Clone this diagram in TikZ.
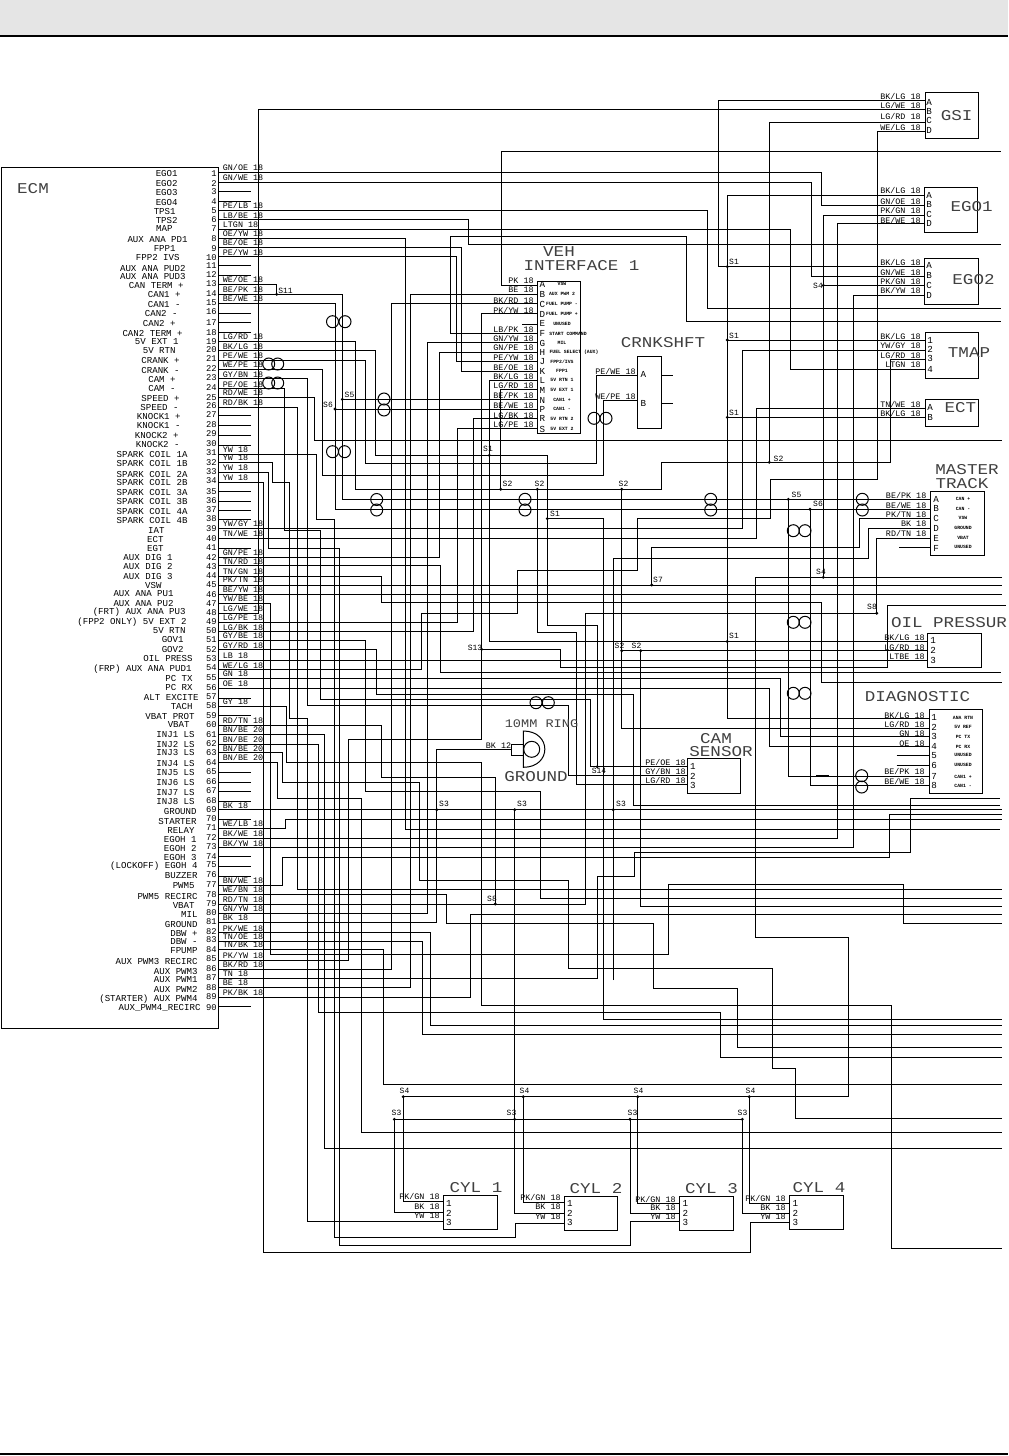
\documentclass[tikz,border=0pt]{standalone}
\usepackage{fontspec}
\setmainfont{Liberation Mono}
\newfontfamily\titlef[FakeStretch=1.17]{Liberation Mono}
\newcounter{nn}
\tikzset{
 wire/.style={draw=black,line width=0.5pt,line join=miter},
 compbox/.style={draw=black,line width=0.5pt,rectangle,inner sep=0pt,fill=none},
 lwire/.style={anchor=west,inner sep=0pt,font=\fontsize{4.2}{5}\selectfont},
 rwire/.style={anchor=east,inner sep=0pt,font=\fontsize{4.2}{5}\selectfont},
 ecmtxt/.style={anchor=east,inner sep=0pt,font=\fontsize{4.55}{5}\selectfont},
 pinnum/.style={anchor=east,inner sep=0pt,font=\fontsize{4.4}{5}\selectfont},
 letter/.style={anchor=center,inner sep=0pt,font=\fontsize{4.6}{5}\selectfont},
 tiny/.style={anchor=center,inner sep=0pt,font=\fontsize{2.4}{3}\selectfont\bfseries},
 title/.style={anchor=center,inner sep=0pt,text=black!75,font=\titlef\fontsize{7.5}{9}\selectfont},
 smalltitle/.style={anchor=center,inner sep=0pt,text=black!75,font=\titlef\fontsize{5.8}{7}\selectfont},
 splice/.style={anchor=center,inner sep=0pt,font=\fontsize{4}{5}\selectfont},
 twist/.style={draw=black,line width=0.5pt},
}
\newcommand{\txt}[4]{\stepcounter{nn}\node[#1] (t\thenn) at (#2,#3) {#4};}
\newcommand{\wl}[2]{\txt{lwire}{222.5}{#1-4.6}{#2}}
\newcommand{\el}[3]{\txt{ecmtxt}{#1}{#2}{#3}}
\newcommand{\pn}[2]{\txt{pinnum}{217}{#1}{#2}}
\newcommand{\boxn}[5]{\node[compbox,minimum width={(#4-#2)*0.5pt},minimum height={(#5-#3)*0.5pt}] (#1) at ({(#2+#4)/2},{(#3+#5)/2}) {};}
\newcommand{\jd}[2]{\fill[black] (#1,#2) circle (1.6);}
\newcommand{\tw}[2]{\draw[twist] (#1,#2) circle (6);}
\newcommand{\twh}[3]{\tw{#1}{#3}\tw{#2}{#3}}
\newcommand{\twv}[3]{\tw{#1}{#2}\tw{#1}{#3}}
\begin{document}
\begin{tikzpicture}[x=0.5pt,y=-0.5pt]
\useasboundingbox (0,0) rectangle (1008,1456);
% frame bars
\fill[black!10] (0,0) rectangle (1008,35);
\draw[line width=1pt] (0,36) -- (1008,36);
\draw[line width=0.6pt] (0,1454) -- (1008,1454);
% ECM box
\boxn{ecm}{1.5}{167.3}{218.5}{1028}
% ECM pins
\foreach \n/\y in {1/172.3,2/182.3,3/191.3,4/201.3,5/210.3,6/219.7,7/229.3,8/238.3,9/247.3,10/256.7,11/265,12/275,13/284.3,14/294.3,15/303.3,16/313.3,17/322.7,18/332.3,19/341.3,20/350.7,21/360.3,22/369.3,23/378.7,24/388.7,25/397.3,26/407.3,27/415,28/425,29/435,30/445,31/454.3,32/462.3,33/472.7,34/482.3,35/491.3,36/501,37/510,38/519,39/528.3,40/538.3,41/548.7,42/557.3,43/565.7,44/576,45/585,46/594.7,47/603.3,48/613.3,49/622,50/631.7,51/640.3,52/649.7,53/660,54/669.7,55/678.7,56/688.3,57/698.3,58/706,59/715.7,60/725,61/734.3,62/744.3,63/752.7,64/762.3,65/772.3,66/782.3,67/791.7,68/801,69/809.7,70/819.3,71/828.3,72/838.3,73/847.7,74/856.7,75/866,76/876,77/885,78/894.3,79/904,80/913.3,81/922.7,82/932.7,83/941,84/949.3,85/960.3,86/969.3,87/978.3,88/987.3,89/997.3,90/1006.7}{\coordinate (p\n) at (218.5,\y);}
% stubs
\foreach \n in {3,4,11,12,16,17,18,27,28,29,30,35,36,37,38,41,57,59,65,66,67,68,70,74,75,76,90}{\draw[wire] (p\n) -- ++(32.5,0);}
% boxes
\boxn{gsi}{925.7}{92.7}{978}{138.7}
\boxn{egoa}{924.3}{187.3}{977.3}{232.3}
\boxn{egob}{924.3}{258.3}{978.3}{304}
\boxn{tmap}{925.7}{332.3}{978.3}{378.3}
\boxn{ect}{925.7}{399.3}{978.3}{426.7}
\boxn{veh}{537.3}{281.7}{580.7}{433.3}
\boxn{crnk}{637.3}{356.7}{661.7}{428.3}
\boxn{mast}{930}{491}{984.3}{555}
\boxn{oil}{927.3}{633.3}{981.3}{667.3}
\boxn{diag}{929.3}{709.3}{982.7}{793.3}
\boxn{cam}{687.3}{758.3}{740.7}{793.3}
\boxn{cyla}{443.3}{1195.3}{497.3}{1229.3}
\boxn{cylb}{564.3}{1196.3}{617.3}{1230.3}
\boxn{cylc}{679.3}{1196.3}{733.3}{1230.3}
\boxn{cyld}{789.3}{1195.3}{843.3}{1229.3}
\boxn{lug}{511.7}{744.3}{523.3}{755.7}
% ring terminal
\draw[wire] (523.3,731) .. controls (552,731) and (552,767.3) .. (523.3,767.3) -- cycle;
\draw[wire] (531.7,749.3) circle (8);
% wires from ECM
\begin{scope}[every path/.style={wire}]
\draw (p1) -- (821.7,172.3) -- (821.7,205.3) -- (egoa.west |- 0,205.3);
\draw (p2) -- (811.7,182.3) -- (811.7,276.7) -- (egob.west |- 0,276.7);
\draw (p5) -- (707.3,210.3) -- (707.3,308.3) -- (1001,308.3);
\draw (p6) -- (468.7,219.7) -- (468.7,244.3) -- (1001,244.3);
\draw (p7) -- (790,229.3) -- (790,369) -- (tmap.west |- 0,369);
\draw (p8) -- (405.7,238.3) -- (405.7,829.3) -- (1000,829.3);
\draw (p9) -- (461.3,247.3) -- (461.3,371.3) -- (veh.west |- 0,371.3);
\draw (p10) -- (456.7,256.7) -- (456.7,361.7) -- (veh.west |- 0,361.7);
\draw (p13) -- (276.7,284.3) -- (276.7,294.3);
\draw (p14) -- (342.3,294.3) -- (342.3,499.3) -- (mast.west |- 0,499.3);
\draw (p15) -- (335,303.3) -- (335,509.3) -- (mast.west |- 0,509.3);
\draw (p19) -- (355.7,341.3) -- (355.7,489.3) -- (661.7,489.3) -- (661.7,462.3) -- (890.7,462.3) -- (890.7,359.3) -- (tmap.west |- 0,359.3);
\draw (p20) -- (375.3,350.7) -- (375.3,455.3) -- (547.3,455.3) -- (547.3,625.7) -- (597.3,625.7) -- (597.3,766.7);
\draw (p21) -- (365,360.3) -- (365,463.3) -- (596.7,463.3) -- (596.7,375.3) -- (crnk.west |- 0,375.3);
\draw (p22) -- (322.7,369.3) -- (322.7,475) -- (603.3,475) -- (603.3,400) -- (crnk.west |- 0,400);
\draw (p23) -- (307.3,378.7) -- (307.3,705) -- (568.7,705) -- (568.7,775.7) -- (cam.west |- 0,775.7);
\draw (p24) -- (284,388.7) -- (284,530) -- (320,530) -- (320,699.3) -- (590.7,699.3) -- (590.7,766.7) -- (cam.west |- 0,766.7);
\draw (p25) -- (314,397.3) -- (314,440.3) -- (1002,440.3);
\draw (p26) -- (297.3,407.3) -- (297.3,889.3) -- (1002,889.3);
\draw (p31) -- (316.7,454.3) -- (316.7,519) -- (334.3,519) -- (334.3,1237.3) -- (515.7,1237.3) -- (515.7,1223.3) -- (cylb.west |- 0,1223.3);
\draw (p32) -- (272.7,462.3) -- (272.7,482.3) -- (289.3,482.3) -- (289.3,718.3) -- (307.3,718.3) -- (307.3,1221.7) -- (cyla.west |- 0,1221.7);
\draw (p33) -- (268.3,472.7) -- (268.3,548.7) -- (339.3,548.7) -- (339.3,1245.3) -- (630.7,1245.3) -- (630.7,1221.7) -- (cylc.west |- 0,1221.7);
\draw (p34) -- (263.3,482.3) -- (263.3,1252.3) -- (750.7,1252.3) -- (750.7,1222.3) -- (cyld.west |- 0,1222.3);
\draw (p39) -- (742.7,528.3) -- (742.7,350) -- (tmap.west |- 0,350);
\draw (p40) -- (756,538.3) -- (756,408.3) -- (ect.west |- 0,408.3);
\draw (p42) -- (439.3,557.3) -- (439.3,352) -- (veh.west |- 0,352);
\draw (p43) -- (440.7,565.7) -- (440.7,672.3) -- (1001,672.3);
\draw (p44) -- (381.7,576) -- (381.7,602.3) -- (821.7,602.3) -- (821.7,682.3) -- (1002,682.3);
\draw (p45) -- (1002,585);
\draw (p46) -- (1002,594.7);
\draw (p47) -- (270.7,603.3) -- (270.7,954.3) -- (668.3,954.3) -- (668.3,884.5) -- (903.3,884.5) -- (903.3,923.3) -- (1002,923.3);
\draw (p48) -- (258.5,613.3) -- (258.5,109.3) -- (gsi.west |- 0,109.3);
\draw (p49) -- (457.5,622) -- (457.5,428.3) -- (veh.west |- 0,428.3);
\draw (p50) -- (473.3,631.7) -- (473.3,418.3) -- (veh.west |- 0,418.3);
\draw (p51) -- (365.7,640.3) -- (365.7,791.7) -- (540.7,791.7) -- (540.7,898.3) -- (1002,898.3);
\draw (p52) -- (376.3,649.7) -- (376.3,694) -- (633.3,694) -- (633.3,805.3) -- (1000,805.3);
\draw (p53) -- (oil.west |- 0,660);
\draw (p54) -- (421.7,669.7) -- (421.7,613.3) -- (517.7,613.3) -- (517.7,570.7) -- (637.3,570.7) -- (637.3,518.5) -- (770,518.5) -- (770,479.3) -- (877.3,479.3) -- (877.3,131.7) -- (gsi.west |- 0,131.7);
\draw (p55) -- (780,678.7) -- (780,736) -- (diag.west |- 0,736);
\draw (p56) -- (769.3,688.3) -- (769.3,746) -- (diag.west |- 0,746);
\draw (p58) -- (286.5,706) -- (286.5,762.5) -- (481.7,762.5) -- (481.7,1005.3) -- (891.7,1005.3) -- (891.7,1248.7) -- (1002,1248.7);
\draw (p60) -- (381.7,725) -- (381.7,777.3) -- (495.3,777.3) -- (495.3,904);
\draw (p61) -- (324.3,734.3) -- (324.3,1148.3) -- (1002,1148.3);
\draw (p62) -- (318.3,744.3) -- (318.3,1012.3) -- (720.3,1012.3) -- (720.3,1057.3) -- (1002,1057.3);
\draw (p63) -- (282.7,752.7) -- (282.7,782.5) -- (419.3,782.5) -- (419.3,880.7) -- (568.3,880.7) -- (568.3,968.3) -- (772.3,968.3) -- (772.3,1068.3) -- (795.5,1068.3) -- (795.5,1118.3) -- (1002,1118.3);
\draw (p64) -- (277.3,762.3) -- (277.3,798.3) -- (361.7,798.3) -- (361.7,1132.3) -- (1002,1132.3);
\draw (p69) -- (1002,809.7);
\draw (p71) -- (285.7,828.3) -- (285.7,819.3) -- (1002,819.3);
\draw (p72) -- (837.3,838.3) -- (837.3,223.3) -- (egoa.west |- 0,223.3);
\draw (p73) -- (853.3,847.7) -- (853.3,295.7) -- (egob.west |- 0,295.7);
\draw (p77) -- (282.3,885) -- (282.3,857.5) -- (889.3,857.5) -- (889.3,814.3) -- (1002,814.3);
\draw (p78) -- (446.7,894.3) -- (446.7,923.3) -- (653.3,923.3) -- (653.3,988.3) -- (737.3,988.3) -- (737.3,1047.3) -- (1002,1047.3);
\draw (p79) -- (585.3,904) -- (585.3,613.3) -- (876.7,613.3) -- (876.7,538.3) -- (mast.west |- 0,538.3);
\draw (p80) -- (427.3,913.3) -- (427.3,342.7) -- (veh.west |- 0,342.7);
\draw (p81) -- (436.7,922.7) -- (436.7,749.3) -- (lug.west |- 0,749.3);
\draw (p82) -- (430.7,932.7) -- (430.7,1025.5) -- (1002,1025.5);
\draw (p83) -- (422.7,941) -- (422.7,1034.3) -- (1002,1034.3);
\draw (p84) -- (383.3,949.3) -- (383.3,1084.3) -- (1002,1084.3);
\draw (p85) -- (348.3,960.3) -- (348.3,739.3) -- (481.7,739.3) -- (481.7,313.3) -- (veh.west |- 0,313.3);
\draw (p86) -- (391.7,969.3) -- (391.7,303.3) -- (veh.west |- 0,303.3);
\draw (p87) -- (597.3,978.3) -- (597.3,876.3) -- (634.3,876.3) -- (634.3,852.3) -- (910.7,852.3) -- (910.7,798.3) -- (1000,798.3);
\draw (p88) -- (410.7,987.3) -- (410.7,294.3) -- (veh.west |- 0,294.3);
\draw (p89) -- (470.3,997.3) -- (470.3,914.3) -- (1002,914.3);
% other runs
\draw (veh.west |- 0,285) -- (501.5,285) -- (501.5,151.5) -- (1001,151.5);
\draw (veh.west |- 0,333.3) -- (450,333.3) -- (450,236.5) -- (686.7,236.5) -- (686.7,321) -- (1001,321);
\draw (veh.west |- 0,324.3) -- (521.7,324.3);
\draw (veh.west |- 0,380.7) -- (489.3,380.7) -- (489.3,641.5) -- (oil.west |- 0,641.5);
\draw (veh.west |- 0,389.3) -- (500.7,389.3) -- (500.7,489.3);
\draw (veh.west |- 0,399.3) -- (342.3,399.3);
\draw (veh.west |- 0,409) -- (335,409);
\draw (crnk.east |- 0,375.5) -- (673,375.5);
\draw (crnk.east |- 0,403) -- (673,403);
% S1 net
\draw (gsi.west |- 0,100) -- (718.3,100) -- (718.3,266.7) -- (egob.west |- 0,266.7);
\draw (egoa.west |- 0,195) -- (727.3,195) -- (727.3,718.3) -- (diag.west |- 0,718.3);
\draw (727.3,340) -- (tmap.west |- 0,340);
\draw (727.3,417.3) -- (ect.west |- 0,417.3);
\draw (547.3,518.7) -- (603.3,518.7) -- (603.3,1019.3) -- (1002,1019.3);
% S2 net
\draw (gsi.west |- 0,122.3) -- (769.3,122.3) -- (769.3,462.3);
\draw (537.3,489.3) -- (537.3,632.3) -- (576.7,632.3) -- (576.7,784.7) -- (cam.west |- 0,784.7);
\draw (621.7,489.3) -- (621.7,728) -- (diag.west |- 0,728);
\draw (621.7,650.7) -- (oil.west |- 0,650.7);
\draw (640.7,650.7) -- (640.7,906.3) -- (1002,906.3);
% S4 net
\draw (egoa.west |- 0,215) -- (823.3,215) -- (823.3,577.3);
\draw (823.3,285.3) -- (egob.west |- 0,285.3);
\draw (1002,577.3) -- (755.7,577.3) -- (755.7,937.3) -- (848.3,937.3) -- (848.3,1096.7) -- (403.3,1096.7) -- (403.3,1201.7) -- (cyla.west |- 0,1201.7);
\draw (523.3,1096.7) -- (523.3,1202.7) -- (cylb.west |- 0,1202.7);
\draw (637.7,1096.7) -- (637.7,1203.3) -- (cylc.west |- 0,1203.3);
\draw (749.3,1096.7) -- (749.3,1203.3) -- (cyld.west |- 0,1203.3);
% S3 net
\draw (514.7,809.7) -- (514.7,1213.3) -- (cylb.west |- 0,1213.3);
\draw (394.3,1119.3) -- (742.3,1119.3) -- (742.3,1213.3) -- (cyld.west |- 0,1213.3);
\draw (394.3,1119.3) -- (394.3,1212.3) -- (cyla.west |- 0,1212.3);
\draw (630,1119.3) -- (630,1213.3) -- (cylc.west |- 0,1213.3);
\draw (613.3,980) -- (613.3,558.3) -- (868.3,558.3) -- (868.3,528.3) -- (mast.west |- 0,528.3);
% misc
\draw (651.7,585) -- (651.7,547.7) -- (859.3,547.7) -- (859.3,518.5) -- (mast.west |- 0,518.5);
\draw (788.3,499.3) -- (788.3,776) -- (diag.west |- 0,776);
\draw (810,509.3) -- (810,785.3) -- (diag.west |- 0,785.3);
\draw (481.7,649.3) -- (560.7,649.3) -- (560.7,667.3) -- (887.3,667.3) -- (887.3,605.7) -- (1006,605.7);
\draw (899.3,547.7) -- (mast.west |- 0,547.7);
\draw (896.7,755.7) -- (diag.west |- 0,755.7);
\draw (896.7,765) -- (diag.west |- 0,765);
\end{scope}
\draw[line width=0.9pt] (816,775.8) -- (829,775.8);
% splice dots
\jd{276.7}{294.3}\jd{342.3}{399.3}\jd{335}{409}\jd{489.3}{455.3}\jd{500.7}{489.3}\jd{537.3}{489.3}\jd{621.7}{489.3}\jd{547.3}{518.7}
\jd{727.3}{266.7}\jd{727.3}{340}\jd{727.3}{417.3}\jd{727.3}{641.5}\jd{769.3}{462.3}\jd{823.3}{285.3}\jd{823.3}{577.3}\jd{788.3}{499.3}\jd{810}{509.3}\jd{876.7}{613.3}\jd{651.7}{585}
\jd{621.7}{650.7}\jd{640.7}{650.7}\jd{481.7}{649.3}\jd{597.3}{766.7}\jd{495.3}{904}\jd{436.7}{809.7}\jd{514.7}{809.7}\jd{613.3}{809.7}
\jd{403.3}{1096.7}\jd{523.3}{1096.7}\jd{637.7}{1096.7}\jd{749.3}{1096.7}\jd{394.3}{1119.3}\jd{514.7}{1119.3}\jd{630}{1119.3}\jd{742.3}{1119.3}
% twisted pair marks
\twh{268.7}{277.7}{364}\twh{268.7}{277.7}{383}\twh{332.5}{345}{321.7}\twh{332.5}{344.5}{451.7}
\twv{384}{399}{410}\twv{376.7}{499.5}{510}\twv{525}{499.3}{510}\twh{594}{606}{418.3}\twv{710.7}{499.3}{510}\twv{862.3}{499.3}{510}
\twh{793.3}{805}{530.7}\twh{793.3}{805}{622.3}\twh{793.3}{805}{693.3}\twv{861.7}{775.7}{787}\twh{536}{548.3}{702.7}
% ECM text
\txt{title}{33}{188.5}{ECM}
\el{178}{173.3}{EGO1}\el{178}{183.3}{EGO2}\el{178}{192.7}{EGO3}\el{178}{202.7}{EGO4}\el{176}{211}{TPS1}\el{178}{220}{TPS2}\el{173}{228.7}{MAP}\el{188}{239.3}{AUX ANA PD1}\el{176}{248.7}{FPP1}\el{180}{257.7}{FPP2 IVS}\el{186}{268.3}{AUX ANA PUD2}\el{186}{276.7}{AUX ANA PUD3}\el{184}{285.3}{CAN TERM +}\el{181}{294.7}{CAN1 +}\el{181}{304.3}{CAN1 -}\el{178}{313.7}{CAN2 -}\el{176}{323.3}{CAN2 +}\el{183}{333}{CAN2 TERM +}\el{179}{341.7}{5V EXT 1}\el{176}{351}{5V RTN}\el{180}{360.7}{CRANK +}\el{180}{370.3}{CRANK -}\el{176}{379.7}{CAM +}\el{176}{388.7}{CAM -}\el{180}{398}{SPEED +}\el{179}{407.3}{SPEED -}\el{181}{416.7}{KNOCK1 +}\el{181}{425.7}{KNOCK1 -}\el{179}{435}{KNOCK2 +}\el{180}{444.3}{KNOCK2 -}
\el{188}{454}{SPARK COIL 1A}\el{188}{463}{SPARK COIL 1B}\el{188}{474}{SPARK COIL 2A}\el{188}{482.7}{SPARK COIL 2B}\el{188}{492.7}{SPARK COIL 3A}\el{188}{501.7}{SPARK COIL 3B}\el{188}{511}{SPARK COIL 4A}\el{188}{520}{SPARK COIL 4B}\el{165}{530}{IAT}\el{164}{539}{ECT}\el{164}{548.3}{EGT}\el{173}{557.7}{AUX DIG 1}\el{173}{566.7}{AUX DIG 2}\el{173}{576}{AUX DIG 3}\el{162}{585}{VSW}\el{174}{594}{AUX ANA PU1}\el{174}{603.3}{AUX ANA PU2}\el{186}{612.3}{(FRT) AUX ANA PU3}\el{187}{622}{(FPP2 ONLY) 5V EXT 2}\el{186}{630.3}{5V RTN}\el{184}{639.3}{GOV1}\el{184}{649.3}{GOV2}\el{193}{658.7}{OIL PRESS}\el{192}{669}{(FRP) AUX ANA PUD1}\el{193}{678.7}{PC TX}\el{193}{687.7}{PC RX}\el{199}{697}{ALT EXCITE}\el{193}{706}{TACH}\el{195}{716}{VBAT PROT}\el{190}{724.7}{VBAT}\el{195}{734.3}{INJ1 LS}\el{195}{744}{INJ2 LS}
\el{195}{752.7}{INJ3 LS}\el{195}{763.3}{INJ4 LS}\el{195}{772.7}{INJ5 LS}\el{195}{782.7}{INJ6 LS}\el{195}{792}{INJ7 LS}\el{195}{801.7}{INJ8 LS}\el{197}{811.3}{GROUND}\el{197}{821}{STARTER}\el{195}{830}{RELAY}\el{197}{839}{EGOH 1}\el{197}{848.3}{EGOH 2}\el{197}{857.7}{EGOH 3}\el{198}{866}{(LOCKOFF) EGOH 4}\el{198}{876}{BUZZER}\el{195}{886}{PWM5}\el{198}{896}{PWM5 RECIRC}\el{195}{905}{VBAT}\el{198}{914.3}{MIL}\el{198}{924}{GROUND}\el{198}{933.3}{DBW +}\el{198}{941.7}{DBW -}\el{198}{951}{FPUMP}\el{198}{961}{AUX PWM3 RECIRC}\el{198}{971}{AUX PWM3}\el{198}{980}{AUX PWM1}\el{198}{989.3}{AUX PWM2}\el{198}{999}{(STARTER) AUX PWM4}\el{201}{1008.3}{AUX\_PWM4\_RECIRC}
% pin numbers
\foreach \n/\y in {1/173.3,2/183.3,3/192,4/202,5/211,6/220,7/229,8/238.7,9/248.3,10/257.7,11/266,12/275,13/284,14/293.3,15/302.7,16/312,17/322.7,18/332.3,19/341.3,20/349.3,21/358.7,22/368.7,23/378,24/388,25/397.3,26/406,27/415,28/425,29/434,30/443.3,31/452.7,32/462.3,33/471.7,34/481,35/491.7,36/501,37/510,38/519,39/529,40/538.3,41/547.7,42/557.3,43/566.7,44/576,45/585,46/594.3,47/603.3,48/612.3,49/621.7,50/631,51/640,52/650,53/659,54/667.7,55/677.3,56/687.3,57/696.7,58/706,59/715.7,60/725,61/734.3,62/743.3,63/752.7,64/762.3,65/771.7,66/781.7,67/790.7,68/800.7,69/810,70/818.3,71/827.7,72/837.3,73/846.7,74/856.7,75/865,76/875,77/884.3,78/894.3,79/903.3,80/912.7,81/921.7,82/931.7,83/940,84/949.3,85/959,86/969,87/977.7,88/987.3,89/996.7,90/1007.7}{\pn{\y}{\n}}
% wire labels at ECM
\wl{172.3}{GN/OE 18}\wl{182.3}{GN/WE 18}\wl{210.3}{PE/LB 18}\wl{219.7}{LB/BE 18}\wl{229.3}{LTGN 18}\wl{238.3}{OE/YW 18}\wl{247.3}{BE/OE 18}\wl{256.7}{PE/YW 18}\wl{284.3}{WE/OE 18}\wl{294.3}{BE/PK 18}\wl{303.3}{BE/WE 18}\wl{341.3}{LG/RD 18}\wl{350.7}{BK/LG 18}\wl{360.3}{PE/WE 18}\wl{369.3}{WE/PE 18}\wl{378.7}{GY/BN 18}\wl{388.7}{PE/OE 18}\wl{397.3}{RD/WE 18}\wl{407.3}{RD/BK 18}\wl{454.3}{YW 18}\wl{462.3}{YW 18}\wl{472.7}{YW 18}\wl{482.3}{YW 18}\wl{528.3}{YW/GY 18}\wl{538.3}{TN/WE 18}\wl{557.3}{GN/PE 18}\wl{565.7}{TN/RD 18}\wl{576}{TN/GN 18}\wl{584.3}{PK/TN 18}\wl{594}{BE/YW 18}\wl{603.3}{YW/BE 18}\wl{613.3}{LG/WE 18}\wl{622}{LG/PE 18}\wl{631.7}{LG/BK 18}\wl{640.3}{GY/BE 18}\wl{649.7}{GY/RD 18}\wl{660}{LB 18}\wl{669.7}{WE/LG 18}\wl{678.7}{GN 18}\wl{688.3}{OE 18}\wl{706}{GY 18}\wl{725}{RD/TN 18}\wl{734.3}{BN/BE 20}\wl{744.3}{BN/BE 20}\wl{752.7}{BN/BE 20}\wl{762.3}{BN/BE 20}\wl{810}{BK 18}\wl{828.3}{WE/LB 18}\wl{838.3}{BK/WE 18}\wl{847.7}{BK/YW 18}\wl{885}{BN/WE 18}\wl{894.3}{WE/BN 18}\wl{904}{RD/TN 18}\wl{913.3}{GN/YW 18}\wl{922.7}{BK 18}\wl{932.7}{PK/WE 18}\wl{941}{TN/OE 18}\wl{949.3}{TN/BK 18}\wl{960.3}{PK/YW 18}\wl{969.3}{BK/RD 18}\wl{978.3}{TN 18}\wl{987.3}{BE 18}\wl{997.3}{PK/BK 18}
\txt{splice}{285.5}{290.5}{S11}
% GSI etc
\foreach \y/\t in {96/{BK/LG 18},105/{LG/WE 18},116.7/{LG/RD 18},127/{WE/LG 18},190.7/{BK/LG 18},201.7/{GN/OE 18},210.7/{PK/GN 18},220/{BE/WE 18},262.7/{BK/LG 18},272.3/{GN/WE 18},281.7/{PK/GN 18},290.7/{BK/YW 18},336.7/{BK/LG 18},345.7/{YW/GY 18},355/{LG/RD 18},365/{LTGN 18},404/{TN/WE 18},413.3/{BK/LG 18}}{\txt{rwire}{921}{\y}{\t}}
\foreach \y/\t in {102.3/A,111.7/B,120.7/C,130.7/D}{\txt{letter}{929}{\y}{\t}}
\foreach \y/\t in {195.7/A,204.3/B,214/C,223.3/D,265.7/A,275.7/B,285/C,295/D}{\txt{letter}{929}{\y}{\t}}
\foreach \y/\t in {340/1,349.3/2,358.3/3,369/4}{\txt{letter}{930}{\y}{\t}}
\foreach \y/\t in {407.3/A,417.3/B}{\txt{letter}{930}{\y}{\t}}
\txt{title}{956.7}{116}{GSI}\txt{title}{971.7}{206.7}{EGO1}\txt{title}{973.5}{279.3}{EGO2}\txt{title}{969}{352.7}{TMAP}\txt{title}{960.3}{407.7}{ECT}
% VEH
\txt{title}{559}{251.7}{VEH}\txt{title}{581.5}{265.7}{INTERFACE 1}
\foreach \y/\t in {281/{PK 18},290/{BE 18},300.3/{BK/RD 18},310/{PK/YW 18},329/{LB/PK 18},338.3/{GN/YW 18},347.3/{GN/PE 18},357/{PE/YW 18},367/{BE/OE 18},376.3/{BK/LG 18},385/{LG/RD 18},395.7/{BE/PK 18},405/{BE/WE 18},415/{LG/BK 18},424.3/{LG/PE 18}}{\txt{rwire}{534}{\y}{\t}}
\foreach \y/\t in {284.3/A,294/B,304/C,314/D,323.7/E,333.7/F,343/G,352.7/H,361.7/J,371/K,380/L,390.3/M,400/N,409/P,418.7/R,429/S}{\txt{letter}{542.3}{\y}{\t}}
\foreach \x/\y/\t in {562/284.3/VSW,562/294/{AUX PWM 2},562/304/{FUEL PUMP -},562/314/{FUEL PUMP +},562/323.7/UNUSED,568/333.7/{START COMMAND},562/343/MIL,574/352.7/{FUEL SELECT (AUX)},562/361.7/{FPP2/IVS},562/371/FPP1,562/380/{5V RTN 1},562/390.3/{5V EXT 1},562/400/{CAN1 +},562/409/{CAN1 -},562/418.7/{5V RTN 2},562/429/{5V EXT 2}}{\txt{tiny}{\x}{\y}{\t}}
% CRNKSHFT
\txt{title}{663}{343}{CRNKSHFT}
\txt{rwire}{636}{371}{PE/WE 18}\txt{rwire}{636}{396.7}{WE/PE 18}
\txt{letter}{643.3}{374}{A}\txt{letter}{643.3}{403.3}{B}
% MASTER TRACK
\txt{title}{967}{469.3}{MASTER}\txt{title}{962}{484}{TRACK}
\foreach \y/\t in {495/{BE/PK 18},505/{BE/WE 18},514.3/{PK/TN 18},523.3/{BK 18},533.3/{RD/TN 18}}{\txt{rwire}{926.7}{\y}{\t}}
\foreach \y/\t in {499.3/A,508.7/B,518.3/C,528.3/D,538.3/E,548.3/F}{\txt{letter}{936}{\y}{\t}}
\foreach \y/\t in {499.3/{CAN +},509/{CAN -},518.3/VSW,528/GROUND,538/VBAT,546.7/UNUSED}{\txt{tiny}{963}{\y}{\t}}
% OIL
\txt{title}{949}{622.3}{OIL PRESSUR}
\foreach \y/\t in {637.7/{BK/LG 18},647.3/{LG/RD 18},656.7/{LTBE 18}}{\txt{rwire}{925}{\y}{\t}}
\foreach \y/\t in {640.7/1,650.7/2,660/3}{\txt{letter}{933}{\y}{\t}}
% DIAGNOSTIC
\txt{title}{917.5}{696.7}{DIAGNOSTIC}
\foreach \y/\t in {715/{BK/LG 18},724/{LG/RD 18},733.3/{GN 18},743.3/{OE 18},771.7/{BE/PK 18},781.7/{BE/WE 18}}{\txt{rwire}{925}{\y}{\t}}
\foreach \y/\t in {717.7/1,727.3/2,736.7/3,746.7/4,756/5,765.3/6,776/7,785.3/8}{\txt{letter}{934}{\y}{\t}}
\foreach \y/\t in {718/{ANA RTN},727.3/{5V REF},737/{PC TX},747/{PC RX},755/UNUSED,765/UNUSED,776.5/{CAN1 +},785.5/{CAN1 -}}{\txt{tiny}{963}{\y}{\t}}
% CAM SENSOR
\txt{title}{716}{738.7}{CAM}\txt{title}{721}{752}{SENSOR}
\foreach \y/\t in {762.3/{PE/OE 18},771/{GY/BN 18},780.3/{LG/RD 18}}{\txt{rwire}{686}{\y}{\t}}
\foreach \y/\t in {766.7/1,776.7/2,785.3/3}{\txt{letter}{693}{\y}{\t}}
% ground
\txt{smalltitle}{541.5}{723.3}{10MM RING}\txt{title}{536}{776.7}{GROUND}\txt{rwire}{511.5}{746}{BK 12}
% CYL
\txt{title}{476}{1187.7}{CYL 1}\txt{title}{596}{1189}{CYL 2}\txt{title}{711.5}{1189}{CYL 3}\txt{title}{819}{1187.7}{CYL 4}
\foreach \x/\a/\b/\c in {440/1196.7/1206.7/1215.7,561/1197/1207/1216.7,676/1199/1208/1217,786/1198/1208/1217}{\txt{rwire}{\x}{\a}{PK/GN 18}\txt{rwire}{\x}{\b}{BK 18}\txt{rwire}{\x}{\c}{YW 18}}
\foreach \x in {449,570,685.5,795.5}{\txt{letter}{\x}{1203.3}{1}\txt{letter}{\x}{1213.3}{2}\txt{letter}{\x}{1222.7}{3}}
% splice labels
\foreach \x/\y/\t in {734/262/S1,734/336/S1,734/413/S1,734/636/S1,488/449/S1,555/514/S1,507.5/484/S2,539.5/484/S2,623.5/484/S2,778.5/459/S2,619.5/646/S2,636.5/646/S2,818/286/S4,821/572/S4,796.5/495/S5,349.5/395/S5,818/504/S6,328/405/S6,658/580/S7,872/607/S8,492/899/S8,475/648/S13,599/771/S14,444/804/S3,522/804/S3,621/804/S3,396.5/1113/S3,511.5/1113/S3,632.5/1113/S3,742.5/1113/S3,404.5/1091/S4,524.5/1091/S4,638.5/1091/S4,750.5/1091/S4}{\txt{splice}{\x}{\y}{\t}}
\end{tikzpicture}
\end{document}
